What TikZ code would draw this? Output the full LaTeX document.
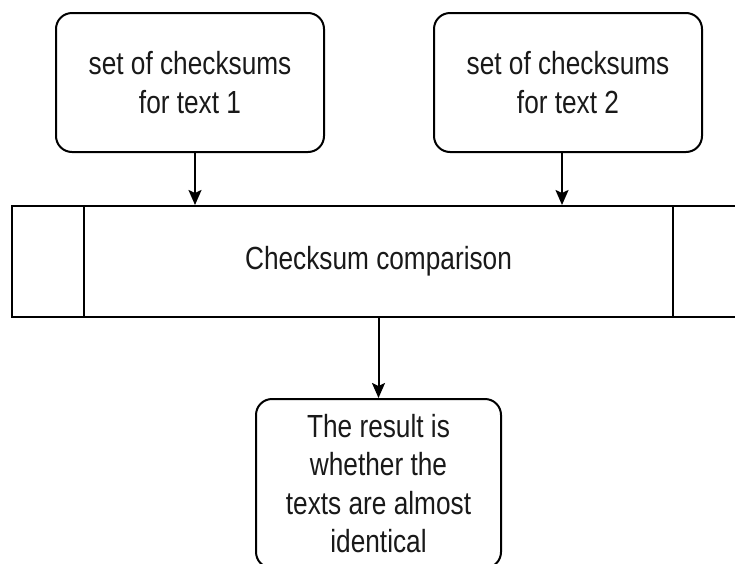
\documentclass[tikz,border=0pt]{standalone}
\usepackage{fontspec}
\setmainfont[FakeStretch=0.82]{Liberation Sans}
\usetikzlibrary{arrows.meta}

\begin{document}
\begin{tikzpicture}[x=1pt,y=-1pt,
  line width=2pt,
  every node/.style={font=\fontsize{32}{38.5}\selectfont, text=black!90, align=center, inner sep=0pt},
  roundbox/.style={draw=black, rounded corners=16pt, minimum width=268pt, minimum height=139pt},
  procbox/.style={draw=black, minimum width=733pt, minimum height=111pt},
  resultbox/.style={draw=black, rounded corners=16pt, minimum width=245pt, minimum height=169pt},
  arr/.style={-{Stealth[length=15pt,width=13pt,inset=3pt]}, line width=2pt}
]
\useasboundingbox (0,0) rectangle (735,563);

% input checksum sets
\node[roundbox] (t1) at (190,82.5) {set of checksums\\for text 1};
\node[roundbox] (t2) at (568,82.5) {set of checksums\\for text 2};

% comparison step, drawn as a predefined process
\node[procbox] (proc) at (378.5,261.5) {Checksum comparison};
\draw ([xshift=73pt]proc.north west) -- ([xshift=73pt]proc.south west);
\draw ([xshift=-73pt]proc.north east) -- ([xshift=-73pt]proc.south east);

% outcome
\node[resultbox] (res) at (378.5,483.5) {The result is\\whether the\\texts are almost\\identical};

% connectors
\draw[arr] ([xshift=5pt]t1.south) -- ([xshift=5pt]t1.south |- proc.north);
\draw[arr] ([xshift=-6pt]t2.south) -- ([xshift=-6pt]t2.south |- proc.north);
\draw[arr] (proc.south) -- (res.north);
\end{tikzpicture}
\end{document}
